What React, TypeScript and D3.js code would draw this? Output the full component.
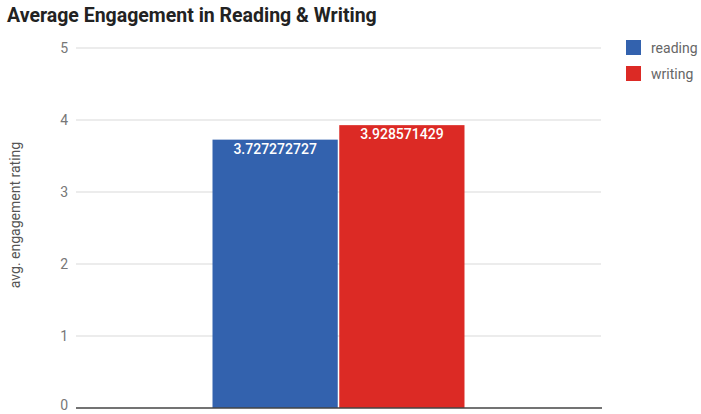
import React from "react";
import * as d3 from "d3";

const categories = ["Average Engagement"];
const seriesNames = ["reading", "writing"];
const seriesValues = [3.727272727, 3.928571429];
const seriesLabels = ["3.727272727", "3.928571429"];
const yTicks = [0, 1, 2, 3, 4, 5];
const colors = ["#3362ae", "#dc2a25"];

const W = 701;
const H = 414;
const FONT = "Roboto, 'Noto Sans', Arial, sans-serif";

export default function App() {
  const left = 76;
  const right = 601;
  const top = 48;
  const bottom = 408;

  const y = d3.scaleLinear().domain([0, 5]).range([bottom, top]);
  const x0 = d3
    .scaleBand<string>()
    .domain(categories)
    .range([left, right])
    .paddingInner(0)
    .paddingOuter(0.5417);
  const x1 = d3
    .scaleBand<string>()
    .domain(seriesNames)
    .range([0, x0.bandwidth()])
    .paddingInner(0.012);

  return (
    <svg
      width={W}
      height={H}
      style={{ position: "absolute", left: 0, top: 0, background: "#fff" }}
      fontFamily={FONT}
    >
      <text x={7} y={22} fontSize={19.5} fontWeight={700} fill="#222">
        Average Engagement in Reading &amp; Writing
      </text>

      {yTicks.map((t) => (
        <g key={t}>
          {t !== 0 && (
            <line x1={left} x2={right} y1={y(t)} y2={y(t)} stroke="#d9d9d9" strokeWidth={1} />
          )}
          <text
            x={68}
            y={t === 0 ? 410 : y(t)}
            dy={t === 0 ? 0 : "0.35em"}
            textAnchor="end"
            fontSize={14}
            fill="#777"
          >
            {t}
          </text>
        </g>
      ))}

      <text
        transform={`translate(20,215) rotate(-90)`}
        textAnchor="middle"
        fontSize={14}
        fill="#555"
      >
        avg. engagement rating
      </text>

      {categories.map((c) => (
        <g key={c} transform={`translate(${x0(c)},0)`}>
          {seriesNames.map((s, i) => {
            const bx = x1(s) as number;
            const by = y(seriesValues[i]);
            return (
              <g key={s}>
                <rect
                  x={bx}
                  y={by}
                  width={x1.bandwidth()}
                  height={bottom - by}
                  fill={colors[i]}
                />
                <text
                  x={bx + x1.bandwidth() / 2}
                  y={by + 14}
                  textAnchor="middle"
                  fontSize={14}
                  fontWeight={500}
                  fill="#fff"
                >
                  {seriesLabels[i]}
                </text>
              </g>
            );
          })}
        </g>
      ))}

      <line x1={left} x2={right + 1} y1={bottom} y2={bottom} stroke="#444" strokeWidth={1.5} />

      {seriesNames.map((s, i) => (
        <g key={s} transform={`translate(626,${40 + i * 26})`}>
          <rect width={15} height={15} fill={colors[i]} />
          <text x={25} y={12.5} fontSize={14} fill="#666">
            {s}
          </text>
        </g>
      ))}
    </svg>
  );
}
